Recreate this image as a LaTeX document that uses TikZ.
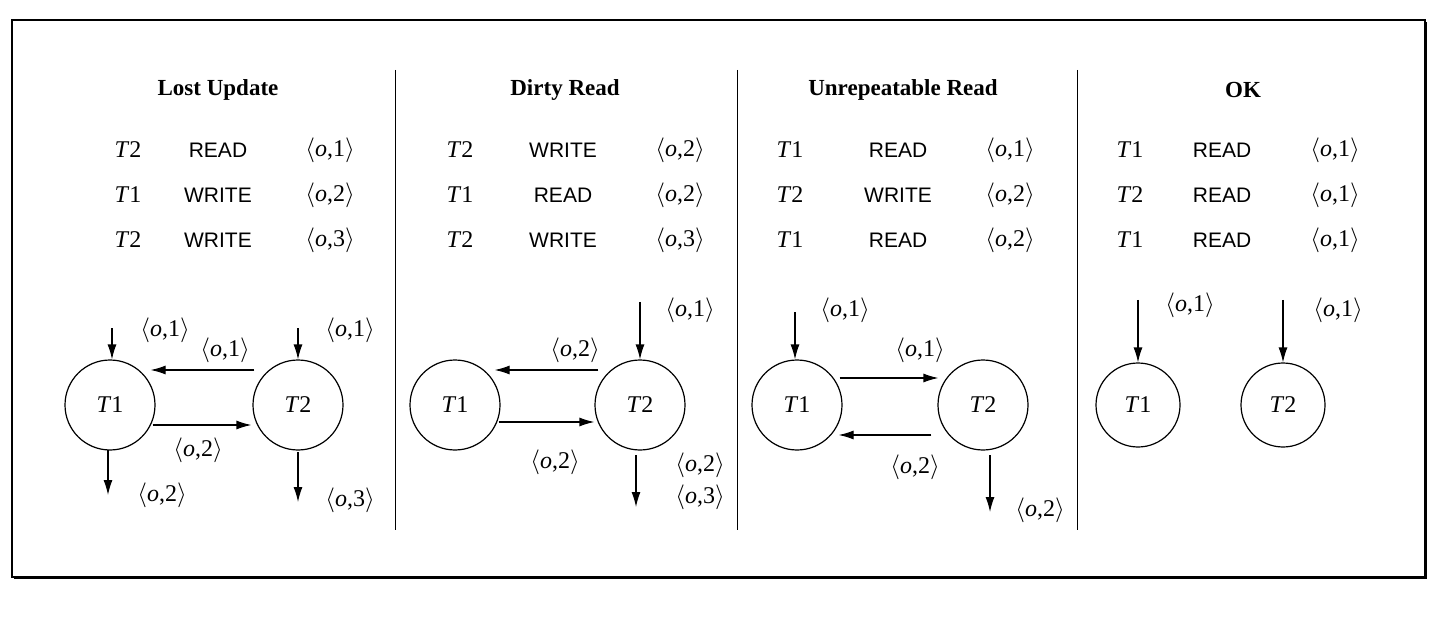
\documentclass[tikz,border=0pt]{standalone}
\usepackage{fontspec}
\setmainfont{Liberation Serif}
\setsansfont{Liberation Sans}
\usetikzlibrary{arrows.meta}
\tikzset{
  ttl/.style={font=\fontsize{23}{26}\selectfont\bfseries},
  txt/.style={font=\fontsize{24}{28}\selectfont},
  op/.style={font=\fontsize{21}{24}\selectfont\sffamily},
  tr/.style={circle,draw,line width=1.2pt,minimum size=90pt,inner sep=0pt,font=\fontsize{24}{28}\selectfont},
  arr/.style={line width=1.2pt,-{Latex[length=15pt,width=9pt]}},
  sep/.style={line width=1pt}
}
\newcommand{\tp}[1]{$\langle$\textit{o},#1$\rangle$}
\newcommand{\tn}[1]{\textit{T}#1}
\begin{document}
\begin{tikzpicture}[x=1pt,y=-1pt]
\useasboundingbox (0,0) rectangle (1440,620);
\draw[line width=2pt] (12,20) rectangle (1425,577);
\draw[line width=3pt] (14,577) -- (1425,577) -- (1425,22);
\foreach \x in {395,737,1077} \draw[sep] (\x,70) -- (\x,530);
% Panel 1
\node[ttl] at (218,90) {Lost Update};
\foreach \y/\t/\o/\v in {150/2/READ/1,195/1/WRITE/2,240/2/WRITE/3}{
 \node[txt] at (128,\y) {\tn{\t}}; \node[op] at (218,\y) {\o}; \node[txt] at (330,\y) {\tp{\v}};}
\node[tr] (a1) at (110,405) {\tn1};
\node[tr] (a2) at (298,405) {\tn2};
\coordinate (a1i) at (112,328); \coordinate (a2i) at (298,328);
\draw[arr] (a1i) -- (a1i|-a1.north);
\draw[arr] (a2i) -- (a2i|-a2.north);
\node[txt] at (165,330) {\tp1};
\node[txt] at (350,330) {\tp1};
\draw[arr] ([yshift=35,xshift=2]a2.west) -- ([yshift=35,xshift=-5]a1.east);
\node[txt] at (225,350) {\tp1};
\draw[arr] ([yshift=-20,xshift=-3]a1.east) -- ([yshift=-20,xshift=-1]a2.west);
\node[txt] at (198,450) {\tp2};
\coordinate (a1o) at (108,450); \coordinate (a1e) at (108,495);
\draw[arr] (a1o) -- (a1e);
\node[txt] at (162,495) {\tp2};
\coordinate (a2o) at (298,452); \coordinate (a2e) at (298,502);
\draw[arr] (a2o) -- (a2e);
\node[txt] at (350,500) {\tp3};
% Panel 2
\node[ttl] at (565,90) {Dirty Read};
\foreach \y/\t/\o/\v in {150/2/WRITE/2,195/1/READ/2,240/2/WRITE/3}{
 \node[txt] at (460,\y) {\tn{\t}}; \node[op] at (563,\y) {\o}; \node[txt] at (680,\y) {\tp{\v}};}
\node[tr] (b1) at (455,405) {\tn1};
\node[tr] (b2) at (640,405) {\tn2};
\coordinate (b2i) at (640,302);
\draw[arr] (b2i) -- (b2.north);
\node[txt] at (690,310) {\tp1};
\draw[arr] ([yshift=35,xshift=4]b2.west) -- ([yshift=35,xshift=-6]b1.east);
\node[txt] at (575,350) {\tp2};
\draw[arr] ([yshift=-17,xshift=-2]b1.east) -- ([yshift=-17]b2.west);
\node[txt] at (555,462) {\tp2};
\coordinate (b2o) at (636,455); \coordinate (b2e) at (636,507);
\draw[arr] (b2o) -- (b2e);
\node[txt] at (700,465) {\tp2};
\node[txt] at (700,497) {\tp3};
% Panel 3
\node[ttl] at (903,90) {Unrepeatable Read};
\foreach \y/\t/\o/\v in {150/1/READ/1,195/2/WRITE/2,240/1/READ/2}{
 \node[txt] at (790,\y) {\tn{\t}}; \node[op] at (898,\y) {\o}; \node[txt] at (1010,\y) {\tp{\v}};}
\node[tr] (c1) at (797,405) {\tn1};
\node[tr] (c2) at (983,405) {\tn2};
\coordinate (c1i) at (795,312);
\draw[arr] (c1i) -- (c1i|-c1.north);
\node[txt] at (845,310) {\tp1};
\draw[arr] ([yshift=27,xshift=-3]c1.east) -- ([yshift=27,xshift=1]c2.west);
\node[txt] at (920,350) {\tp1};
\draw[arr] ([yshift=-30,xshift=-6]c2.west) -- ([yshift=-30,xshift=-4]c1.east);
\node[txt] at (915,467) {\tp2};
\coordinate (c2o) at (990,455); \coordinate (c2e) at (990,512);
\draw[arr] (c2o) -- (c2e);
\node[txt] at (1040,510) {\tp2};
% Panel 4
\node[ttl] at (1243,90) {OK};
\foreach \y/\t/\o/\v in {150/1/READ/1,195/2/READ/1,240/1/READ/1}{
 \node[txt] at (1130,\y) {\tn{\t}}; \node[op] at (1222,\y) {\o}; \node[txt] at (1335,\y) {\tp{\v}};}
\node[tr,minimum size=84pt] (d1) at (1138,405) {\tn1};
\node[tr,minimum size=84pt] (d2) at (1283,405) {\tn2};
\coordinate (d1i) at (1138,300); \coordinate (d2i) at (1283,300);
\draw[arr] (d1i) -- (d1.north);
\draw[arr] (d2i) -- (d2.north);
\node[txt] at (1190,305) {\tp1};
\node[txt] at (1338,310) {\tp1};
\end{tikzpicture}
\end{document}
